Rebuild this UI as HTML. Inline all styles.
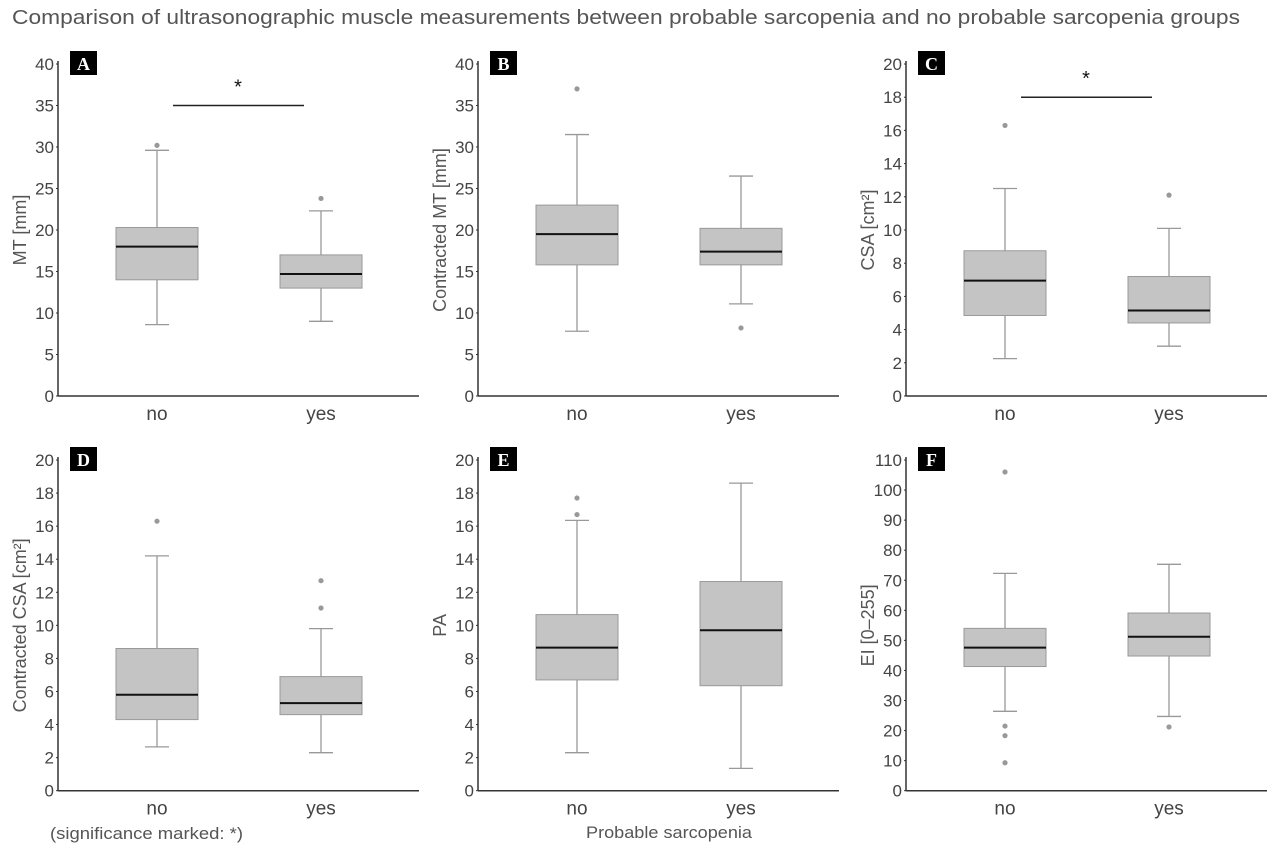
<!DOCTYPE html>
<html><head><meta charset="utf-8"><style>
body{margin:0;background:#fff;width:1280px;height:854px;overflow:hidden;font-family:"Liberation Sans",sans-serif}
</style></head><body>
<svg id="c" width="1280" height="854" xmlns="http://www.w3.org/2000/svg">
<text x="12" y="24" font-size="20" fill="#555" textLength="1228" lengthAdjust="spacingAndGlyphs">Comparison of ultrasonographic muscle measurements between probable sarcopenia and no probable sarcopenia groups</text>
<text x="50" y="839" font-size="17" fill="#555" textLength="193" lengthAdjust="spacingAndGlyphs">(significance marked: *)</text>
<text x="586" y="838" font-size="17" fill="#555" textLength="166" lengthAdjust="spacingAndGlyphs">Probable sarcopenia</text>
</svg>
<script>
const categories=["no","yes"];
const panelLetters=["A","B","C","D","E","F"];
const yTitles=["MT [mm]","Contracted MT [mm]","CSA [cm²]","Contracted CSA [cm²]","PA","EI [0–255]"];
const yMax=[40,40,20,20,20,110];
const yStep=[5,5,2,2,2,10];
// [low whisker, q1, median, q3, high whisker] per category
const statsA=[[8.6,14,18,20.3,29.6],[9,13,14.7,17,22.3]];
const statsB=[[7.8,15.8,19.5,23,31.5],[11.1,15.8,17.4,20.2,26.5]];
const statsC=[[2.25,4.85,6.95,8.75,12.5],[3.0,4.4,5.15,7.2,10.1]];
const statsD=[[2.65,4.3,5.8,8.6,14.2],[2.3,4.6,5.3,6.9,9.8]];
const statsE=[[2.3,6.7,8.65,10.65,16.35],[1.35,6.35,9.7,12.65,18.6]];
const statsF=[[26.4,41.3,47.6,54,72.3],[24.7,44.8,51.2,59.1,75.3]];
const outA=[[30.2],[23.8]];
const outB=[[37],[8.2]];
const outC=[[16.3],[12.1]];
const outD=[[16.3],[12.7,11.05]];
const outE=[[17.7,16.7],[]];
const outF=[[106,21.5,18.3,9.3],[21.2]];
const sigLevel=[35,null,18,null,null,null];
const allStats=[statsA,statsB,statsC,statsD,statsE,statsF];
const allOut=[outA,outB,outC,outD,outE,outF];
const NS="http://www.w3.org/2000/svg";
const svg=document.getElementById("c");
function mk(tag,attrs,parent){const e=document.createElementNS(NS,tag);for(const k in attrs)e.setAttribute(k,attrs[k]);(parent||svg).appendChild(e);return e;}
const x0s=[58,478,906];
for(let p=0;p<6;p++){
  const col=p%3,row=Math.floor(p/3);
  const ax=x0s[col], axEnd=ax+361;
  const yTop=row?460:64, yBot=row?790.7:396;
  const y=v=>yBot-(v/yMax[p])*(yBot-yTop);
  const xc=i=>ax+99+i*164;
  const g=mk("g",{});
  
  
  for(let v=0;v<=yMax[p];v+=yStep[p]){
    const t=mk("text",{x:ax-4,y:y(v)+6,"font-size":17,fill:"#444","text-anchor":"end"},g);
    t.textContent=v;
    
    
    mk("line",{x1:ax-2,x2:ax,y1:y(v),y2:y(v),stroke:"#333"},g);
  }
  const yl=mk("text",{x:0,y:0,"font-size":18,fill:"#555","text-anchor":"middle",transform:`translate(${ax-32},${(yTop+yBot)/2}) rotate(-90)`},g);
  yl.textContent=yTitles[p];
  
  
  const st=allStats[p];
  for(let i=0;i<2;i++){
    const s=st[i],cx=xc(i);
    const bg=mk("g",{},g);
    
    
    mk("line",{x1:cx,x2:cx,y1:y(s[0]),y2:y(s[4]),stroke:"#999","stroke-width":1.3},bg);
    mk("line",{x1:cx-12,x2:cx+12,y1:y(s[0]),y2:y(s[0]),stroke:"#999","stroke-width":1.3},bg);
    mk("line",{x1:cx-12,x2:cx+12,y1:y(s[4]),y2:y(s[4]),stroke:"#999","stroke-width":1.3},bg);
    mk("rect",{x:cx-41,y:y(s[3]),width:82,height:y(s[1])-y(s[3]),fill:"#c4c4c4",stroke:"#999","stroke-width":1},bg);
    mk("line",{x1:cx-41,x2:cx+41,y1:y(s[2]),y2:y(s[2]),stroke:"#111","stroke-width":2},bg);
    for(const o of allOut[p][i]){
      const d=mk("circle",{cx:cx,cy:y(o),r:2.6,fill:"#999"},bg);
      
      
    }
    const cl=mk("text",{x:cx,y:yBot+24,"font-size":19,fill:"#444","text-anchor":"middle"},g);
    cl.textContent=categories[i];
    
    
  }
  mk("line",{x1:ax,x2:ax,y1:yTop-3,y2:yBot,stroke:"#333","stroke-width":1.5},g);
  mk("line",{x1:ax,x2:axEnd,y1:yBot,y2:yBot,stroke:"#333","stroke-width":1.5},g);
  const lb=mk("rect",{x:ax+12,y:yTop-13,width:27,height:24,fill:"#000"},g);
  
  
  const lt=mk("text",{x:ax+25.5,y:yTop+6,"font-size":18,"font-weight":"bold","font-family":"Liberation Serif,serif",fill:"#fff","text-anchor":"middle"},g);
  lt.textContent=panelLetters[p];
  
  
  if(sigLevel[p]!=null){
    const sy=y(sigLevel[p]);
    const sl=mk("line",{x1:ax+115,x2:ax+246,y1:sy,y2:sy,stroke:"#222","stroke-width":1.5},g);
    
    
    const s=mk("text",{x:ax+180,y:sy-12,"font-size":20,fill:"#111","text-anchor":"middle"},g);
    s.textContent="*";
    
    
  }
}
</script>
</body></html>
